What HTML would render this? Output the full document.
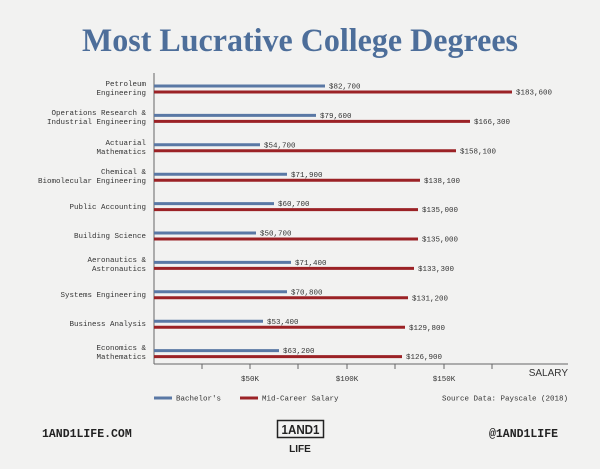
<!DOCTYPE html>
<html><head><meta charset="utf-8"><style>
html,body{margin:0;padding:0;background:#f2f2f1;}
svg{display:block}
.m{font-family:"Liberation Mono",monospace;fill:#333;}
</style></head><body>
<svg width="600" height="469" viewBox="0 0 600 469" xmlns="http://www.w3.org/2000/svg">
<rect width="600" height="469" fill="#f2f2f1"/>
<text x="300" y="51" text-anchor="middle" font-family="Liberation Serif,serif" font-weight="bold" font-size="33" fill="#4d6e9a" textLength="436" lengthAdjust="spacingAndGlyphs">Most Lucrative College Degrees</text>
<line x1="154" y1="73" x2="154" y2="364" stroke="#666" stroke-width="1"/>
<line x1="154" y1="364" x2="568" y2="364" stroke="#666" stroke-width="1"/>
<g stroke="#666" stroke-width="1">
<line x1="202" y1="364" x2="202" y2="369"/><line x1="250" y1="364" x2="250" y2="369"/><line x1="298" y1="364" x2="298" y2="369"/><line x1="347" y1="364" x2="347" y2="369"/><line x1="395" y1="364" x2="395" y2="369"/><line x1="444" y1="364" x2="444" y2="369"/><line x1="492" y1="364" x2="492" y2="369"/>
</g>
<g class="m" font-size="7.5" text-anchor="middle">
<text x="250" y="381">$50K</text><text x="347" y="381">$100K</text><text x="444" y="381">$150K</text>
</g>
<text x="568" y="376" text-anchor="end" font-family="Liberation Sans,sans-serif" font-size="10" fill="#333">SALARY</text>
<g id="bars"></g>
<g class="m" font-size="7.5" text-anchor="end">
<text x="146" y="86">Petroleum</text><text x="146" y="95">Engineering</text>
<text x="146" y="115">Operations Research &amp;</text><text x="146" y="124">Industrial Engineering</text>
<text x="146" y="145">Actuarial</text><text x="146" y="154">Mathematics</text>
<text x="146" y="174">Chemical &amp;</text><text x="146" y="183">Biomolecular Engineering</text>
<text x="146" y="209">Public Accounting</text>
<text x="146" y="238">Building Science</text>
<text x="146" y="262">Aeronautics &amp;</text><text x="146" y="271">Astronautics</text>
<text x="146" y="297">Systems Engineering</text>
<text x="146" y="326">Business Analysis</text>
<text x="146" y="350">Economics &amp;</text><text x="146" y="359">Mathematics</text>
</g>
<g stroke-width="3">
<line x1="154" y1="86" x2="325" y2="86" stroke="#5a78a5"/><line x1="154" y1="92" x2="512" y2="92" stroke="#9b2226"/>
<line x1="154" y1="115.4" x2="316" y2="115.4" stroke="#5a78a5"/><line x1="154" y1="121.4" x2="470" y2="121.4" stroke="#9b2226"/>
<line x1="154" y1="144.8" x2="260" y2="144.8" stroke="#5a78a5"/><line x1="154" y1="150.8" x2="456" y2="150.8" stroke="#9b2226"/>
<line x1="154" y1="174.2" x2="287" y2="174.2" stroke="#5a78a5"/><line x1="154" y1="180.2" x2="420" y2="180.2" stroke="#9b2226"/>
<line x1="154" y1="203.6" x2="274" y2="203.6" stroke="#5a78a5"/><line x1="154" y1="209.6" x2="418" y2="209.6" stroke="#9b2226"/>
<line x1="154" y1="233" x2="256" y2="233" stroke="#5a78a5"/><line x1="154" y1="239" x2="418" y2="239" stroke="#9b2226"/>
<line x1="154" y1="262.4" x2="291" y2="262.4" stroke="#5a78a5"/><line x1="154" y1="268.4" x2="414" y2="268.4" stroke="#9b2226"/>
<line x1="154" y1="291.8" x2="287" y2="291.8" stroke="#5a78a5"/><line x1="154" y1="297.8" x2="408" y2="297.8" stroke="#9b2226"/>
<line x1="154" y1="321.2" x2="263" y2="321.2" stroke="#5a78a5"/><line x1="154" y1="327.2" x2="405" y2="327.2" stroke="#9b2226"/>
<line x1="154" y1="350.6" x2="279" y2="350.6" stroke="#5a78a5"/><line x1="154" y1="356.6" x2="402" y2="356.6" stroke="#9b2226"/>
</g>
<g class="m" font-size="7.5">
<text x="329" y="88.5">$82,700</text><text x="516" y="94.5">$183,600</text>
<text x="320" y="118">$79,600</text><text x="474" y="124">$166,300</text>
<text x="264" y="147.5">$54,700</text><text x="460" y="153.5">$158,100</text>
<text x="291" y="177">$71,900</text><text x="424" y="183">$138,100</text>
<text x="278" y="206">$60,700</text><text x="422" y="212">$135,000</text>
<text x="260" y="235.5">$50,700</text><text x="422" y="241.5">$135,000</text>
<text x="295" y="265">$71,400</text><text x="418" y="271">$133,300</text>
<text x="291" y="294.5">$70,800</text><text x="412" y="300.5">$131,200</text>
<text x="267" y="324">$53,400</text><text x="409" y="330">$129,800</text>
<text x="283" y="353">$63,200</text><text x="406" y="359">$126,900</text>
</g>
<line x1="154" y1="398" x2="172" y2="398" stroke="#5a78a5" stroke-width="3"/>
<line x1="240" y1="398" x2="258" y2="398" stroke="#9b2226" stroke-width="3"/>
<g class="m" font-size="7.5">
<text x="176" y="400.5">Bachelor's</text>
<text x="262" y="400.5">Mid-Career Salary</text>
<text x="568" y="400.5" text-anchor="end">Source Data: Payscale (2018)</text>
</g>
<text x="42" y="437" font-family="Liberation Mono,monospace" font-weight="bold" font-size="11.5" fill="#222">1AND1LIFE.COM</text>
<text x="558" y="437" text-anchor="end" font-family="Liberation Mono,monospace" font-weight="bold" font-size="11.5" fill="#222">@1AND1LIFE</text>
<rect x="277.5" y="420.5" width="46" height="17" fill="none" stroke="#222" stroke-width="1.5"/>
<text x="300.5" y="434" text-anchor="middle" font-family="Liberation Sans,sans-serif" font-weight="bold" font-size="13" fill="#222" textLength="38" lengthAdjust="spacingAndGlyphs">1AND1</text>
<text x="300" y="452" text-anchor="middle" font-family="Liberation Sans,sans-serif" font-weight="bold" font-size="10" fill="#222">LIFE</text>
</svg>
</body></html>
